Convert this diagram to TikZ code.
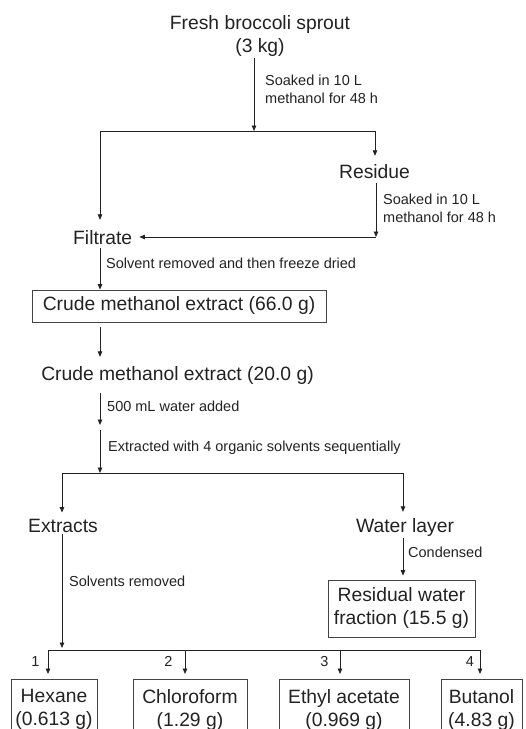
\documentclass[tikz,border=0pt]{standalone}
\usepackage{fontspec}
\setmainfont{Liberation Sans}
\usepackage{tikz}
\usetikzlibrary{arrows.meta, calc}

\definecolor{inkgray}{HTML}{222222}
\definecolor{boxgray}{HTML}{444444}

\tikzset{
  every node/.style={font=\fontsize{19.3}{23}\selectfont, text=inkgray, inner sep=2pt},
  note/.style={font=\fontsize{14.5}{18}\selectfont, align=left, inner sep=0pt},
  box/.style={draw=boxgray, line width=0.8pt, align=center},
  link/.style={draw=inkgray, line width=0.8pt},
  arr/.style={link, -{Triangle[length=5.5pt,width=4.5pt]}},
}

\begin{document}
\begin{tikzpicture}[x=1pt,y=-1pt]
        % Frame of the picture
        \useasboundingbox (0,0) rectangle (526,729);
        \clip (0,0) rectangle (526,729);

        % Draw the first extraction
        \node[anchor=north, align=center] (sprout) at (260,13) {Fresh broccoli sprout\\(3 kg)};
        \node[note, anchor=north west] (soak1) at (265,74.4) {Soaked in 10 L\\methanol for 48 h};
        \node[anchor=base] (residue) at (374.5,178) {Residue};
        \node[note, anchor=north west] (soak2) at (383,193.4) {Soaked in 10 L\\methanol for 48 h};
        \node[anchor=base west] (filtrate) at (71,244) {Filtrate};

        \coordinate (split) at (254,131);
        \coordinate (splitL) at (100,131);
        \coordinate (splitR) at (375,131);
        \coordinate (back) at (376,237);
        \coordinate (col) at (100,0);

        \draw[arr] (sprout.south -| split) -- (split);
        \draw[link] (splitL) -- (splitR);
        \draw[arr, shorten >=8pt] (splitL) -- (splitL |- filtrate.north);
        \draw[arr, shorten >=6pt] (splitR) -- (splitR |- residue.north);
        \draw[arr, shorten <=3pt] (residue.south -| back) -- (back);
        \draw[arr, shorten >=5pt] (back) -- (filtrate.east |- back);

        % Draw the crude extracts
        \node[note, anchor=base west] (dried) at (106,268) {Solvent removed and then freeze dried};
        \node[box, minimum width=294pt, minimum height=32pt] (crude66) at (179,306) {Crude methanol extract (66.0 g)};
        \node[anchor=base] (crude20) at (177.5,380) {Crude methanol extract (20.0 g)};
        \node[note, anchor=base west] (water) at (107,411) {500 mL water added};
        \node[note, anchor=base west] (solvents) at (108,451) {Extracted with 4 organic solvents sequentially};

        \coordinate (added) at (100,427.5);
        \coordinate (split2) at (100,473);
        \coordinate (splitA) at (62,473);
        \coordinate (splitB) at (403,473);

        \draw[arr, shorten <=2pt] (filtrate.south -| col) -- (crude66.north -| col);
        \draw[arr, shorten <=5pt, shorten >=7pt] (crude66.south -| col) -- (crude20.north -| col);
        \draw[arr, shorten <=7pt, shorten >=2.5pt] (crude20.south -| col) -- (added);
        \draw[arr, shorten <=2.5pt] (added) -- (split2);
        \draw[link] (splitA) -- (splitB);

        % Draw the two layers
        \node[anchor=base] (extracts) at (63,532) {Extracts};
        \node[anchor=base] (layer) at (405,532) {Water layer};
        \node[note, anchor=base west] (removed) at (69,586) {Solvents removed};
        \node[note, anchor=base west] (condensed) at (408,557) {Condensed};
        \node[box, minimum width=147pt, minimum height=57pt] (residual) at (401.5,608.5) {Residual water\\fraction (15.5 g)};

        \coordinate (split3) at (62,650);

        \draw[arr, shorten >=4pt] (splitA) -- (extracts.north -| splitA);
        \draw[arr, shorten >=4pt] (splitB) -- (layer.north -| splitB);
        \draw[arr, shorten >=2pt] (extracts.south -| splitA) -- (split3);
        \draw[arr, shorten >=4pt] (layer.south -| splitB) -- (residual.north -| splitB);

        % Draw the four fractions
        \node[box, anchor=north, minimum width=86pt, inner ysep=10pt] (hexane) at (54,679) {Hexane\\(0.613 g)};
        \node[box, anchor=north, minimum width=114pt, inner ysep=10pt] (chloroform) at (190,679) {Chloroform\\(1.29 g)};
        \node[box, anchor=north, minimum width=130pt, inner ysep=10pt] (ethyl) at (344,679) {Ethyl acetate\\(0.969 g)};
        \node[box, anchor=north, minimum width=81pt, inner ysep=10pt] (butanol) at (481.5,679) {Butanol\\(4.83 g)};

        \coordinate (f1) at (48,650);
        \coordinate (f2) at (185,650);
        \coordinate (f3) at (340,650);
        \coordinate (f4) at (480,650);

        \draw[link] (f1) -- (f4);
        \draw[arr, shorten >=5pt] (f1) -- (f1 |- hexane.north);
        \draw[arr, shorten >=5pt] (f2) -- (f2 |- chloroform.north);
        \draw[arr, shorten >=5pt] (f3) -- (f3 |- ethyl.north);
        \draw[arr, shorten >=5pt] (f4) -- (f4 |- butanol.north);

        \node[note, anchor=base] (n1) at (35.5,666) {1};
        \node[note, anchor=base] (n2) at (168.5,666) {2};
        \node[note, anchor=base] (n3) at (324.5,666) {3};
        \node[note, anchor=base] (n4) at (470,666) {4};

    \end{tikzpicture}
\end{document}
